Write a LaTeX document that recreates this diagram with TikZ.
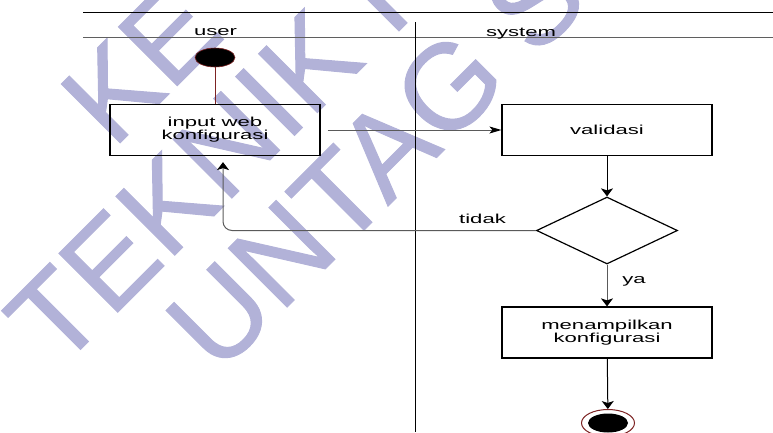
\documentclass[tikz,border=0pt]{standalone}
\usepackage{fontspec}
\setmainfont{Liberation Sans}
\newfontfamily\diagfont[FakeStretch=1.7]{Liberation Sans}
\newfontfamily\markfont[FakeBold=0.8]{Liberation Sans}
\usetikzlibrary{arrows.meta,shapes.geometric,calc}
\definecolor{markblue}{RGB}{178,178,216}
\definecolor{flowgray}{RGB}{90,90,90}
\definecolor{startred}{RGB}{125,35,35}
\definecolor{lanegray}{RGB}{95,95,95}

\begin{document}
\begin{tikzpicture}[x=1pt,y=-1pt,
  actbox/.style={draw=black, line width=1.2pt, minimum width=210pt, minimum height=51pt,
    inner sep=0pt, align=center, font=\diagfont\fontsize{13}{13}\selectfont},
  lbl/.style={font=\diagfont\fontsize{13}{13}\selectfont, inner sep=0pt, anchor=base},
  wm/.style={font=\markfont\fontsize{121}{121}\selectfont, text=markblue, rotate=45,
    anchor=base west, inner sep=0pt},
  harrow/.style={-{Stealth[length=12pt,width=7pt,inset=3pt,color=black]}},
  varrow/.style={-{Stealth[length=8pt,width=12pt,inset=2pt,color=black]}},
  dot/.style={ellipse, inner sep=0pt, minimum width=40pt, minimum height=19pt, fill=black},
]
\useasboundingbox (0,0) rectangle (773,432);

% watermark behind the diagram
\begin{scope}
  \clip (0,0) rectangle (773,432);
  \node[wm] (wmA) at (113,150) {KE};
  \node[wm] (wmB) at (58.3,371.7) {TEKNIK I};
  \node[wm] (wmC) at (218.2,376) {UNTAG S};
\end{scope}

% swimlane frame
\draw[line width=0.9pt] (83,12) -- (773,12);
\draw[lanegray, line width=0.9pt] (83,37) -- (773,37);
\draw[line width=1.3pt] (415.5,22) -- (415.5,432);
\node[lbl] (userlbl) at (215.5,35) {user};
\node[lbl] (syslbl) at (521,36) {system};

% activities
\node[dot, draw=startred, line width=0.6pt] (start) at (215,57.5) {};
\node[actbox] (input) at (215,130) {input web\\konfigurasi};
\node[actbox] (valid) at (607,130) {validasi};
\node[diamond, draw=black, line width=1.2pt, minimum width=141pt, minimum height=67pt,
  inner sep=0pt] (check) at (607,230.5) {};
\node[actbox] (show) at (607,332.5) {menampilkan\\konfigurasi};
\node[ellipse, draw=startred, fill=white, line width=1pt, inner sep=0pt,
  minimum width=53pt, minimum height=27pt] (finish) at (608,423) {};
\node[dot] (finishdot) at (finish.center) {};

% flows
\draw[startred, line width=0.8pt] (start) -- (input);
\draw[flowgray, line width=1pt, harrow, shorten <=7pt] (input) -- (valid);
\draw[line width=1pt, varrow] (valid) -- (check);
\draw[flowgray, line width=1pt, rounded corners=9pt, varrow, shorten >=6pt]
  (check.west) -| ($(input.south)+(8,0)$);
\node[lbl] (tidak) at (482.5,223.5) {tidak};
\draw[flowgray, line width=1pt, varrow] (check) -- (show);
\node[lbl] (ya) at (634,283) {ya};
\draw[line width=1pt, varrow] (show) -- (finish);
\end{tikzpicture}
\end{document}
